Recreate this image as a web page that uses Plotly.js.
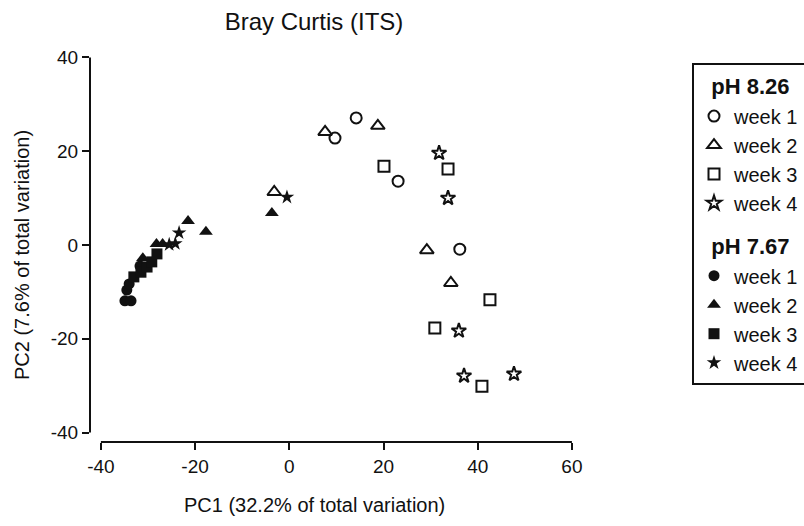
<!DOCTYPE html>
<html>
<head>
<meta charset="utf-8">
<script src="https://cdn.plot.ly/plotly-3.0.1.min.js"></script>
<style>html,body{margin:0;padding:0;background:#fff;}#chart{width:804px;height:526px;}</style>
</head>
<body>
<div id="chart"></div>
<script>
// ---- data ----
const weekLabels = ["week 1", "week 2", "week 3", "week 4"];
const groupTitles = ["pH 8.26", "pH 7.67"];

// pH 8.26 (open symbols)
const hiW1x = [9.7, 14.2, 23.1, 36.2];
const hiW1y = [22.8, 27.1, 13.6, -0.9];
const hiW2x = [7.6, 18.8, -3.2, 29.2, 34.3];
const hiW2y = [24.1, 25.4, 11.3, -1.1, -8.1];
const hiW3x = [20.1, 33.7, 42.6, 30.9, 40.9];
const hiW3y = [16.8, 16.2, -11.7, -17.7, -30.1];
const hiW4x = [31.8, 33.7, 36.0, 37.1, 47.7];
const hiW4y = [19.6, 10.0, -18.3, -27.9, -27.5];

// pH 7.67 (filled symbols)
const loW1x = [-34.9, -33.6, -34.5, -34.0, -31.7];
const loW1y = [-11.9, -11.9, -9.6, -8.3, -4.5];
const loW2x = [-3.7, -21.5, -17.7, -28.2, -26.9, -31.1];
const loW2y = [6.8, 5.1, 2.8, 0.2, 0.2, -2.8];
const loW3x = [-33.0, -31.5, -30.2, -29.2, -28.1];
const loW3y = [-6.8, -5.8, -4.7, -3.6, -1.9];
const loW4x = [-0.5, -23.4, -25.5, -24.2];
const loW4y = [10.2, 2.6, 0.1, 0.3];

const xTicks = [-40, -20, 0, 20, 40, 60];
const yTicks = [-40, -20, 0, 20, 40];

// ---- styling ----
const FONT = "Arial, 'Liberation Sans', sans-serif";
const INK = "#111";
const openSyms = ["circle-open", "triangle-up-open", "square-open", "star-open"];
const fillSyms = ["circle", "triangle-up", "square", "star"];
const sizes = [11, 12, 11, 11];

const hiX = [hiW1x, hiW2x, hiW3x, hiW4x], hiY = [hiW1y, hiW2y, hiW3y, hiW4y];
const loX = [loW1x, loW2x, loW3x, loW4x], loY = [loW1y, loW2y, loW3y, loW4y];
const NB = "\u00a0\u00a0";

const traces = [];
for (let i = 0; i < 4; i++) {
  traces.push({
    type: "scatter", mode: "markers", x: hiX[i], y: hiY[i], name: weekLabels[i],
    legendgroup: "hi", legendgrouptitle: {text: NB + "<b>" + groupTitles[0] + "</b>", font: {size: 22, color: INK, family: FONT}},
    marker: {symbol: openSyms[i], size: sizes[i], color: INK, line: {color: INK, width: 2}}
  });
}
for (let i = 0; i < 4; i++) {
  traces.push({
    type: "scatter", mode: "markers", x: loX[i], y: loY[i], name: weekLabels[i],
    legendgroup: "lo", legendgrouptitle: {text: NB + "<b>" + groupTitles[1] + "</b>", font: {size: 22, color: INK, family: FONT}},
    marker: {symbol: fillSyms[i], size: sizes[i], color: INK, line: {color: INK, width: 0}}
  });
}

const L = 90, R = 580, T = 50, B = 442, W = 804, H = 526;
const pxPerX = 4.71, x0px = 289.3, pxPerY = 4.69, y0px = 245;
const xRange = [(L - x0px) / pxPerX, (R - x0px) / pxPerX];
const yRange = [(y0px - B) / pxPerY, (y0px - T) / pxPerY];
const px2paperX = p => (p - L) / (R - L);
const px2paperY = p => (B - p) / (B - T);

const layout = {
  width: W, height: H,
  margin: {l: L, r: W - R, t: T, b: H - B, pad: 0, autoexpand: false},
  paper_bgcolor: "#fff", plot_bgcolor: "#fff",
  font: {family: FONT, color: INK, size: 19},
  title: {text: "Bray Curtis (ITS)", font: {size: 24, family: FONT, color: INK},
          xref: "paper", x: px2paperX(314), xanchor: "center",
          yref: "container", y: 1 - 22 / H, yanchor: "middle"},
  xaxis: {range: xRange, tickvals: xTicks, ticktext: xTicks.map(String), showgrid: false, zeroline: false,
          showline: false, ticks: "outside", ticklen: 7, tickwidth: 2, tickcolor: INK,
          tickfont: {size: 19, color: INK}},
  yaxis: {range: yRange, tickvals: yTicks, ticktext: yTicks.map(String), showgrid: false, zeroline: false,
          showline: false, ticks: "outside", ticklen: 7, tickwidth: 2, tickcolor: INK,
          tickfont: {size: 19, color: INK}},
  shapes: [
    {type: "line", xref: "x", yref: "paper", x0: xTicks[0], x1: xTicks[xTicks.length - 1], y0: 0, y1: 0,
     line: {color: INK, width: 2}},
    {type: "line", xref: "paper", yref: "y", x0: 0, x1: 0, y0: yTicks[0], y1: yTicks[yTicks.length - 1],
     line: {color: INK, width: 2}}
  ],
  annotations: [
    {text: "PC1 (32.2% of total variation)", xref: "paper", yref: "paper", x: px2paperX(314), y: px2paperY(505),
     xanchor: "center", yanchor: "middle", showarrow: false, font: {size: 20, color: INK}},
    {text: "PC2 (7.6% of total variation)", xref: "paper", yref: "paper", x: px2paperX(22), y: px2paperY(255),
     xanchor: "center", yanchor: "middle", showarrow: false, textangle: -90, font: {size: 20, color: INK}}
  ],
  showlegend: true,
  legend: {x: px2paperX(692), xanchor: "left", y: px2paperY(63), yanchor: "top",
           bordercolor: INK, borderwidth: 2, bgcolor: "#fff", font: {size: 20, color: INK},
           tracegroupgap: 12, traceorder: "grouped"}
};

Plotly.newPlot("chart", traces, layout, {displayModeBar: false, staticPlot: true});
</script>
</body>
</html>
